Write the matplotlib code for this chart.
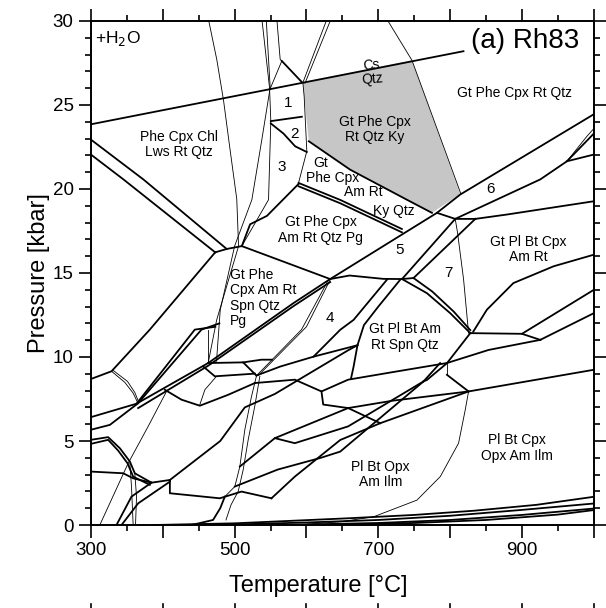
import numpy as np
import matplotlib.pyplot as plt
from matplotlib.ticker import MultipleLocator
import matplotlib.transforms as mtransforms

plt.rcParams['font.family'] = ['Liberation Sans', 'DejaVu Sans']

# ---- phase boundaries, (T [C], P [kbar]) ----
# thick reaction lines, high-P part
coe_qtz = [(300, 23.85), (818.5, 28.2)]
hp_a = [(300, 22.94), (373, 20.57), (489, 16.43)]
hp_b = [(300, 22.05), (345.3, 20.57), (473, 16.23)]
cap = [(473, 16.23), (489, 16.43), (510, 16.6)]
am_in = [(510, 16.6), (521.6, 17.9), (545, 18.4), (589, 20.3)]
sep_12 = [(550.4, 24.04), (593.6, 24.3)]
sep_23 = [(550.4, 23.9), (568, 23.3), (584.3, 22.54), (600.5, 22.2)]
ky_top = [(603.3, 22.84), (660.8, 21.15), (739.8, 19.36), (774.6, 18.58)]
ky_bot = [(589, 20.36), (647, 19.35), (732.8, 17.62)]
ky_bot2 = [(589, 20.16), (647, 19.15), (732.8, 17.42)]
pg_top = [(510, 16.6), (633, 14.64)]
long_diag = [(300, 6.42), (363.5, 7.22), (463.2, 9.64), (582, 13.21), (633, 14.64),
             (781.6, 18.58), (814, 19.67), (1000, 24.45)]
long_diag2 = [(365.8, 6.96), (463.2, 9.48), (582, 13.03), (633, 14.46)]
plat = [(633, 14.64), (660, 14.85), (707, 14.65), (733, 14.64), (749, 14.7)]
am_out = [(733, 14.64), (767.6, 13.8), (800, 12.61), (828, 11.42)]
am_out2 = [(749, 14.7), (775, 13.9), (805, 12.7), (828, 11.6)]
s57a = [(733, 14.64), (807, 18.22)]
s57b = [(749, 14.7), (835, 18.22)]
six_low = [(807, 18.22), (925.4, 20.57), (962.5, 21.65), (1000, 23.3)]
six_br = [(962.5, 21.65), (1000, 22.05)]
top_link = [(781.6, 18.58), (807, 18.22), (835, 18.22)]
pl_top = [(835, 18.22), (879, 18.48), (1000, 19.27)]
cpx_low = [(832, 11.5), (851, 12.81), (888, 14.4), (944, 15.4), (1000, 16.09)]
r1 = [(899.9, 11.38), (1000, 14.0)]
r2 = [(925.4, 11.02), (1000, 12.61)]
hz = [(828, 11.42), (899.9, 11.38), (925.4, 11.02)]
am7_down = [(828, 11.42), (795.5, 9.63), (767.6, 8.63), (763, 8.55)]
sp_a = [(730.5, 14.6), (700, 13.0), (680, 11.9), (671, 10.7), (665.6, 9.43), (662, 8.72)]
sp_b = [(712, 14.6), (665.6, 12.21), (647, 11.62), (609.8, 10.02)]
four_low = [(530.5, 8.9), (563.4, 9.43), (609.8, 10.02), (671, 10.7)]
mid_r = [(795.5, 9.64), (853.5, 10.42), (925.4, 11.02)]
# low-P part
steep = [(500.3, 2.29), (560, 3.3), (620, 4.0), (647, 4.37), (763, 8.55), (786, 9.64)]
v_link = [(795.5, 8.94), (825.6, 7.95)]
ll_up = [(300, 8.69), (328.7, 9.15), (382, 11.63), (473, 16.23)]
ll_d = [(300, 5.67), (326.4, 5.96), (364.9, 7.22)]
ll_c5 = [(363.5, 7.22), (444.6, 11.63), (473.2, 11.8)]
ll_c6 = [(366.7, 7.30), (453.9, 11.63), (478.8, 12.0)]
ll_c7 = [(300, 5.07), (324, 5.23), (340.3, 4.57), (354.2, 3.78), (361.1, 3.08), (384.3, 2.52)]
ll_c7b = [(300, 4.83), (324, 5.07), (337.9, 4.43), (350.9, 3.68), (358.8, 2.88), (382, 2.39)]
ll_c8 = [(300, 3.18), (344.9, 3.08), (358.8, 2.78), (384.3, 2.52), (409.9, 2.68)]
ll_c9 = [(409.9, 2.68), (409.9, 1.89), (479.4, 1.59), (509.6, 1.99), (551.3, 1.59)]
ll_c11 = [(335.6, 0.0), (356.5, 1.69), (384.3, 2.52)]
ll_c12 = [(342.6, 0.0), (365.8, 1.29), (409.9, 2.58)]
ll_hex = [(402.9, 8.05), (426.1, 7.46), (451.6, 7.10), (491, 7.75), (528.2, 8.45)]
ll_hex2 = [(456.2, 9.44), (472.5, 8.85), (528.2, 9.01)]
ll_hex3 = [(463.2, 9.64), (511.9, 9.68), (530.5, 8.89)]
ll_hex4 = [(511.9, 9.68), (537.4, 9.84), (552, 9.84)]
ll_r2 = [(528.2, 8.45), (583.8, 8.65), (620.9, 7.95), (658, 8.65), (720, 9.1), (795.5, 9.64)]
ll_r3 = [(620.9, 7.95), (623.3, 7.17), (658, 6.96), (702.7, 6.06)]
ll_r4 = [(507.3, 3.48), (556, 5.17), (658, 6.96), (720, 7.4), (825.6, 7.95)]
ll_r5 = [(556, 5.17), (583.8, 4.87), (658, 5.87), (763, 8.55)]
ll_r6 = [(551.3, 1.59), (583.8, 2.88), (647, 5.06), (702.7, 6.06), (825.6, 7.95), (1000, 9.24)]
ll_r7 = [(409.9, 2.68), (480, 5.0), (514.2, 7.0), (556, 7.8), (658, 10.4), (671, 10.7)]
bot1 = [(386.7, 0.0), (500, 0.1), (658, 0.4), (750, 0.6), (833, 0.85), (920, 1.2), (1000, 1.68)]
bot2 = [(472.5, 0.0), (600, 0.15), (700, 0.3), (800, 0.55), (900, 0.9), (1000, 1.28)]
bot3 = [(560, 0.0), (700, 0.12), (800, 0.3), (900, 0.6), (1000, 0.98)]
bot4 = [(620, 0.0), (750, 0.12), (850, 0.3), (950, 0.62), (1000, 0.89)]
bot5 = [(486.4, 1.69), (480, 1.0), (470, 0.3), (440, 0.0)]

# thin lines
thin_b = [(463.6, 30.1), (475.2, 27.7), (484.5, 25.3), (493.8, 22.3), (503, 19.4),
          (505.5, 16.6), (475, 12.2), (463.2, 9.64)]
wedge1 = [(538, 30.1), (548.6, 26.03), (550.4, 24.04), (547.2, 19.36), (510, 16.6)]
wedge2 = [(544, 30.1), (549.5, 26.03), (537.9, 22.94), (524, 19.36), (500, 16.6),
          (480, 12.8), (474.8, 9.74)]
wedge3 = [(558.8, 30.1), (563.4, 27.72), (565.7, 27.6)]
poly_l = [(565.7, 27.62), (549.5, 25.97)]
poly_r = [(565.7, 27.62), (593.6, 26.36)]
ky_l1 = [(628.4, 30.1), (595, 26.33), (596.8, 25.5), (600.5, 22.25), (589, 20.36)]
ky_l2 = [(634, 30.1), (598, 26.3)]
ky_r = [(712, 30.1), (746.8, 27.66), (815, 19.7)]
seven = [(807, 18.22), (810.3, 17.39), (818.7, 14.6), (825.6, 11.42)]
opx_in = [(825.6, 7.95), (821, 6.86), (811.7, 4.87), (786.2, 2.88), (753.7, 1.48),
          (693.4, 0.49), (647, 0.19), (600, 0.05)]
six_thin = [(962.5, 21.65), (990.4, 23.14), (1000, 23.6)]
c2_a = [(328.7, 9.15), (347.2, 8.49), (358.8, 7.85), (365.8, 7.22)]
c2_b = [(331.0, 9.20), (350.9, 8.55), (361.1, 7.89), (366.7, 7.30)]
c10 = [(312.4, 0.0), (351.9, 3.68), (379.7, 5.87), (405.2, 7.95)]
c13a = [(354.2, 3.68), (356.5, 2.29), (358.8, 0.0)]
c13b = [(361.1, 3.08), (363.5, 1.69), (362.1, 0.0)]
hex_in = [(474.8, 8.85), (458.6, 8.05), (451.6, 7.16)]
vert1 = [(463.2, 11.63), (463.2, 9.64)]
vert2 = [(795.5, 9.64), (795.5, 8.94)]
s_band1 = [(530.5, 8.89), (523.5, 7.65), (514.2, 5.67), (507.3, 3.48), (500.3, 2.29),
           (486.4, 1.69)]
s_band2 = [(535.1, 8.85), (528.2, 7.1), (518.9, 5.07), (512, 3.3), (505, 2.0), (495, 1.2),
           (488, 0.3)]
ll_r1 = [(530.5, 8.89), (593.1, 11.63), (630.7, 14.6)]
ll_r1b = [(533, 8.9), (600, 11.8), (633, 14.6)]

gray_T = [595, 746.6, 813.9, 774.6, 739.8, 660.8, 603.3, 596.8]
gray_P = [26.37, 27.66, 19.7, 18.58, 19.36, 21.15, 22.84, 25.5]

thick_set = [coe_qtz, hp_a, hp_b, cap, am_in, sep_12, sep_23, ky_top, ky_bot, ky_bot2,
             pg_top, long_diag, long_diag2, plat, am_out, am_out2, s57a, s57b, six_low,
             six_br, top_link, pl_top, cpx_low, r1, r2, hz, am7_down, sp_a, sp_b,
             four_low, mid_r, steep, v_link, ll_up, ll_d, ll_c5, ll_c6, ll_c7,
             ll_c7b, ll_c8, ll_c9, ll_c11, ll_c12, ll_hex, ll_hex2, ll_hex3, ll_hex4,
             ll_r2, ll_r3, ll_r4, ll_r5, ll_r6, ll_r7,
             bot1, bot2, bot3, bot4, bot5, poly_r]
thin_set = [thin_b, wedge1, wedge2, wedge3, poly_l, ky_l1, ky_l2, ky_r, seven, opx_in,
            six_thin, c2_a, c2_b, c10, c13a, c13b, hex_in, vert1, vert2, s_band1, s_band2,
            ll_r1, ll_r1b]

# field labels: (T, P, text)
labels = [
    (422, 22.65, 'Phe Cpx Chl\nLws Rt Qtz'),
    (890, 25.7, 'Gt Phe Cpx Rt Qtz'),
    (695.6, 23.55, 'Gt Phe Cpx\nRt Qtz Ky'),
    (620, 17.55, 'Gt Phe Cpx\nAm Rt Qtz Pg'),
    (909, 16.4, 'Gt Pl Bt Cpx\nAm Rt'),
    (737, 11.2, 'Gt Pl Bt Am\nRt Spn Qtz'),
    (703, 3.0, 'Pl Bt Opx\nAm Ilm'),
    (893, 4.6, 'Pl Bt Cpx\nOpx Am Ilm'),
    (619.5, 21.57, 'Gt'),
    (637, 20.67, 'Phe Cpx'),
    (679, 19.8, 'Am Rt'),
    (722, 18.68, 'Ky Qtz'),
]
numbers = [(575, 25.1, '1'), (583, 23.3, '2'), (565, 21.33, '3'), (633, 12.33, '4'),
           (730, 16.34, '5'), (856, 19.97, '6'), (798, 15.0, '7')]

fig = plt.figure(figsize=(6.06, 6.08), dpi=100)
ax = fig.add_axes([0.150, 0.1365, 0.830, 0.829])

ax.fill(gray_T, gray_P, color='#c6c6c6', lw=0, zorder=1)
for ln in thick_set:
    t, p = zip(*ln)
    ax.plot(t, p, color='black', lw=1.3, zorder=3, solid_joinstyle='round')
for ln in thin_set:
    t, p = zip(*ln)
    ax.plot(t, p, color='black', lw=0.6, zorder=3)

for t, p, s in labels:
    ax.text(t, p, s, ha='center', va='center', fontsize=10, linespacing=1.15, zorder=4)
for t, p, s in numbers:
    ax.text(t, p, s, ha='center', va='center', fontsize=11, zorder=4)
ax.text(691, 26.95, 'Cs\nQtz', ha='center', va='center', fontsize=10, rotation=5,
        linespacing=1.0)
# Gt Phe / Cpx Am Rt / Spn Qtz / Pg
ax.text(493, 13.5, 'Gt Phe\nCpx Am Rt\nSpn Qtz\nPg', ha='left', va='center',
        fontsize=10, linespacing=1.13)
ax.text(306, 28.95, '+H$_2$O', ha='left', va='center', fontsize=12.5)
ax.text(905, 28.8, '(a) Rh83', ha='center', va='center', fontsize=20)

ax.set_xlim(300, 1000)
ax.set_ylim(0, 30)
ax.xaxis.set_major_locator(MultipleLocator(100))
ax.xaxis.set_minor_locator(MultipleLocator(50))
ax.yaxis.set_major_locator(MultipleLocator(5))
ax.yaxis.set_minor_locator(MultipleLocator(1))
ax.set_xticklabels(['' if v % 200 != 100 else str(int(v)) for v in ax.get_xticks()])
ax.tick_params(which='both', direction='out', top=True, right=True, width=1.2,
               labelsize=13.5)
ax.tick_params(which='major', length=9)
ax.tick_params(which='minor', length=4.5)
for s in ax.spines.values():
    s.set_linewidth(1.4)
ax.set_xlabel('Temperature [°C]', fontsize=17)
ax.set_ylabel('Pressure [kbar]', fontsize=17, labelpad=2)
ax.xaxis.set_label_coords(0.452, -0.10)

# tick stubs of the panel below, cut by the image edge
trans = mtransforms.blended_transform_factory(ax.transData, fig.transFigure)
for v in range(300, 1001, 100):
    ax.plot([v, v], [0.0, 0.006], color='black', lw=1.2, transform=trans, clip_on=False)

fig.savefig('out.png', dpi=100)
